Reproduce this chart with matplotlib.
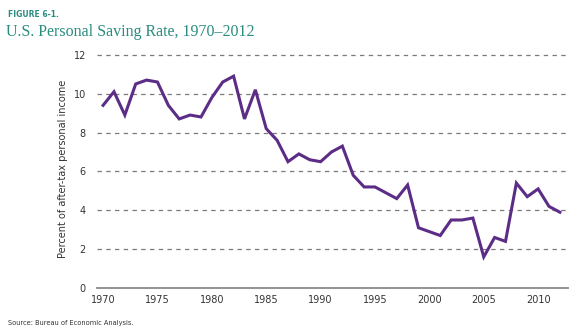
import matplotlib
matplotlib.use("Agg")
import matplotlib.pyplot as plt

years = list(range(1970, 2013))
saving_rate = [9.4, 10.1, 8.9, 10.5, 10.7, 10.6, 9.4, 8.7, 8.9, 8.8,
               9.8, 10.6, 10.9, 8.7, 10.2, 8.2, 7.6, 6.5, 6.9, 6.6,
               6.5, 7.0, 7.3, 5.8, 5.2, 5.2, 4.9, 4.6, 5.3, 3.1,
               2.9, 2.7, 3.5, 3.5, 3.6, 1.6, 2.6, 2.4, 5.4, 4.7,
               5.1, 4.2, 3.9]
y_ticks = [0, 2, 4, 6, 8, 10, 12]
x_ticks = [1970, 1975, 1980, 1985, 1990, 1995, 2000, 2005, 2010]

teal = '#2a8c80'
purple = '#5c2d86'

fig = plt.figure(figsize=(5.85, 3.32), dpi=100)
ax = fig.add_axes([0.166, 0.1325, 0.805, 0.72])

ax.plot(years, saving_rate, color=purple, lw=2.2, solid_joinstyle='miter')

ax.set_xlim(1969.45, 2012.75)
ax.set_ylim(0, 12.3)
ax.set_yticks(y_ticks)
ax.set_xticks(x_ticks)
for y in y_ticks[1:]:
    ax.axhline(y, color='#7a7a7a', lw=0.9, ls=(0, (3.5, 3.5)), zorder=0)

for s in ['top', 'right', 'left']:
    ax.spines[s].set_visible(False)
ax.spines['bottom'].set_color('#8a8a8a')
ax.spines['bottom'].set_linewidth(1.3)
ax.tick_params(length=0, labelsize=7, labelcolor='#333333', pad=5)
ax.tick_params(axis='y', pad=8)
ax.set_ylabel('Percent of after-tax personal income', fontsize=7, color='#333333', labelpad=4)

fig.text(0.013, 0.957, 'FIGURE 6-1.', fontsize=5.5, color=teal, fontweight='bold', va='center')
fig.text(0.011, 0.905, 'U.S. Personal Saving Rate, 1970\u20132012', fontsize=11.5, color=teal,
         family='Liberation Serif', va='center')
fig.text(0.013, 0.028, 'Source: Bureau of Economic Analysis.', fontsize=4.8, color='#333333', va='center')

fig.savefig('out.png', dpi=100)
